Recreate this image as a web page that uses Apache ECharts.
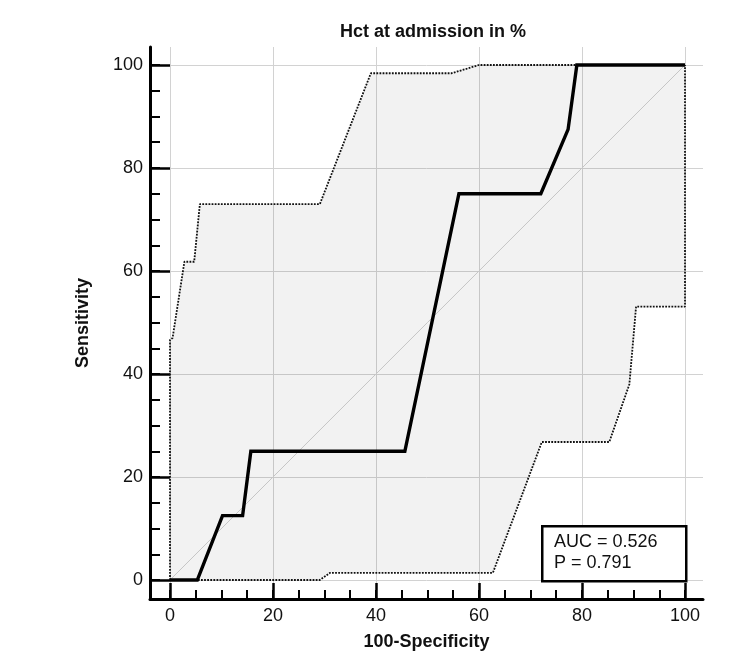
<!DOCTYPE html>
<html>
<head>
<meta charset="utf-8">
<script src="https://cdn.jsdelivr.net/npm/echarts@6/dist/echarts.min.js"></script>
<style>html,body{margin:0;padding:0;background:#fff}#c{width:750px;height:669px}</style>
</head>
<body>
<div id="c"></div>
<script>
// ROC curve (100-Specificity, Sensitivity)
var rocX = [0, 5.3, 10.2, 14.1, 15.7, 45.6, 56.1, 72.0, 77.3, 79.0, 100];
var rocY = [0, 0, 12.5, 12.5, 25, 25, 75, 75, 87.5, 100, 100];
// Upper 95% confidence bound
var upperX = [0, 0, 0.5, 2.8, 4.7, 5.8, 29.1, 39.0, 54.7, 60.0, 100];
var upperY = [0, 46.6, 47.0, 61.8, 61.8, 73.0, 73.0, 98.4, 98.4, 100, 100];
// Lower 95% confidence bound
var lowerX = [0, 29.1, 31.1, 62.7, 72.2, 85.3, 89.2, 90.5, 100, 100];
var lowerY = [0, 0, 1.4, 1.4, 26.8, 26.8, 38.0, 53.1, 53.1, 100];
// Reference diagonal
var diagX = [0, 100];
var diagY = [0, 100];
// Ticks
var majorTicks = [0, 20, 40, 60, 80, 100];
var minorTicks = [0, 5, 10, 15, 20, 25, 30, 35, 40, 45, 50, 55, 60, 65, 70, 75, 80, 85, 90, 95, 100];
var titleText = 'Hct at admission in %';
var xName = '100-Specificity';
var yName = 'Sensitivity';
var statLines = ['AUC = 0.526', 'P = 0.791'];

function pairs(xs, ys) { return xs.map(function (x, i) { return [x, ys[i]]; }); }

var FONT = 'Liberation Sans, Arial, sans-serif';
var chart = echarts.init(document.getElementById('c'), null, {renderer: 'canvas'});

var axMin = -3.883, axMax = 103.495, ayMin = -3.689, ayMax = 103.495;

var upperPts = pairs(upperX, upperY);
var lowerPts = pairs(lowerX, lowerY);

chart.setOption({
  animation: false,
  backgroundColor: '#fff',
  title: {
    text: titleText, left: 428, top: 18, textAlign: 'center',
    textStyle: {fontFamily: FONT, fontSize: 18, fontWeight: 'bold', color: '#111'}
  },
  grid: {left: 150, right: 47, top: 47, bottom: 70},
  xAxis: [{
    type: 'value', min: axMin, max: axMax, position: 'bottom',
    name: xName, nameLocation: 'middle', nameGap: 34,
    nameTextStyle: {fontFamily: FONT, fontSize: 18, fontWeight: 'bold', color: '#111'},
    axisLine: {show: true, onZero: false, lineStyle: {color: '#000', width: 3}},
    axisTick: {show: true, inside: true, length: 16, customValues: majorTicks, lineStyle: {color: '#000', width: 2.5}},
    axisLabel: {customValues: majorTicks, margin: 8, fontFamily: FONT, fontSize: 18, color: '#111'},
    splitLine: {show: true, lineStyle: {color: '#d2d2d2', width: 1}}
  }, {
    type: 'value', min: axMin, max: axMax, position: 'bottom',
    axisLine: {show: false, onZero: false},
    axisTick: {show: true, inside: true, length: 9, customValues: minorTicks, lineStyle: {color: '#000', width: 2}},
    axisLabel: {show: false},
    splitLine: {show: false}
  }],
  yAxis: [{
    type: 'value', min: ayMin, max: ayMax, position: 'left',
    name: yName, nameLocation: 'middle', nameGap: 58,
    nameTextStyle: {fontFamily: FONT, fontSize: 18, fontWeight: 'bold', color: '#111'},
    axisLine: {show: true, onZero: false, lineStyle: {color: '#000', width: 3}},
    axisTick: {show: true, inside: true, length: 20, customValues: majorTicks, lineStyle: {color: '#000', width: 2.5}},
    axisLabel: {customValues: majorTicks, margin: 7, fontFamily: FONT, fontSize: 18, color: '#111'},
    splitLine: {show: true, lineStyle: {color: '#d2d2d2', width: 1}}
  }, {
    type: 'value', min: ayMin, max: ayMax, position: 'left',
    axisLine: {show: false, onZero: false},
    axisTick: {show: true, inside: true, length: 10, customValues: minorTicks, lineStyle: {color: '#000', width: 2}},
    axisLabel: {show: false},
    splitLine: {show: false}
  }],
  series: [{
    type: 'custom',
    silent: true,
    data: [[0, 0]],
    renderItem: function (params, api) {
      var pts = [];
      upperPts.forEach(function (p) { pts.push(api.coord(p)); });
      for (var i = lowerPts.length - 1; i >= 0; i--) pts.push(api.coord(lowerPts[i]));
      return {type: 'polygon', shape: {points: pts}, style: {fill: 'rgba(0,0,0,0.05)', stroke: 'none'}};
    },
    z: 1
  }, {
    type: 'line', data: pairs(diagX, diagY), showSymbol: false, silent: true,
    lineStyle: {color: '#c6c6c6', width: 1}, z: 2
  }, {
    type: 'line', data: upperPts, showSymbol: false, silent: true,
    lineStyle: {color: '#111', width: 1.8, type: [1.8, 1.3]}, z: 3
  }, {
    type: 'line', data: lowerPts, showSymbol: false, silent: true,
    lineStyle: {color: '#111', width: 1.8, type: [1.8, 1.3]}, z: 3
  }, {
    type: 'line', data: pairs(rocX, rocY), showSymbol: false, silent: true,
    lineStyle: {color: '#000', width: 3.4, join: 'miter'}, z: 4
  }],
  graphic: [{
    type: 'rect', left: 541, top: 525, z: 100,
    shape: {width: 144, height: 55},
    style: {fill: '#fff', stroke: '#000', lineWidth: 2.5}
  }, {
    type: 'text', left: 554, top: 532, z: 101,
    style: {text: statLines.join('\n'), fontFamily: FONT, fontSize: 18, lineHeight: 21, fill: '#111'}
  }]
});
</script>
</body>
</html>
